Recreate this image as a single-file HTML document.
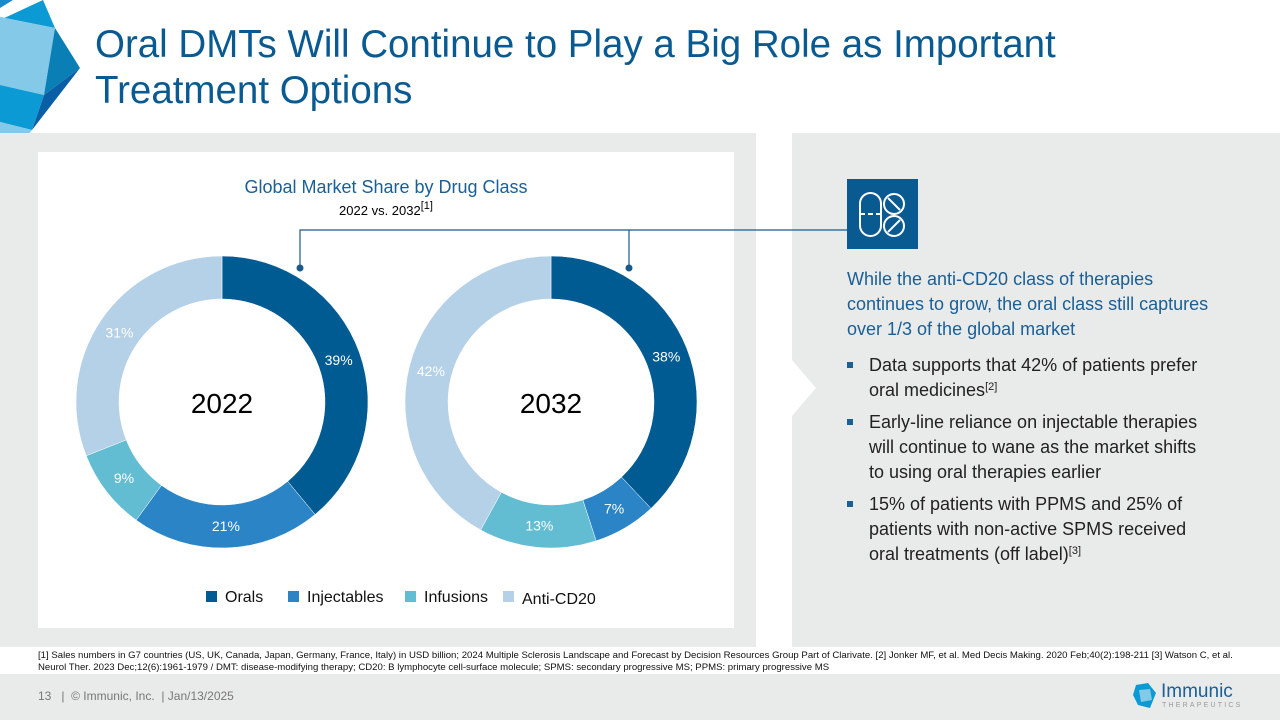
<!DOCTYPE html>
<html><head><meta charset="utf-8"><style>
body{margin:0;width:1280px;height:720px;position:relative;overflow:hidden;background:#fff;font-family:"Liberation Sans",sans-serif}
.abs{position:absolute}
ul{margin:0;padding:0;list-style:none}
li{position:relative;padding-left:24px;margin-bottom:7px;white-space:nowrap}
li:before{content:"";position:absolute;left:2px;top:9px;width:6px;height:6px;background:#1a5f95}
sup{font-size:11px;line-height:0;vertical-align:6px}
</style></head><body>
<svg class="abs" style="left:0;top:0" width="90" height="170">
<polygon points="0,0 13,0 0,8" fill="#1a8ac8"/>
<polygon points="0,20 43,0 55,28 0,17" fill="#0b9ad4"/>
<polygon points="0,17 55,28 44,95 0,85" fill="#84c9e8"/>
<polygon points="55,28 80,68 44,95" fill="#0a7fb5"/>
<polygon points="44,95 80,68 32,130" fill="#0a5ea5"/>
<polygon points="0,85 44,95 32,130 0,122" fill="#0b9ad4"/>
<polygon points="0,122 32,130 0,170" fill="#84c9e8"/>
</svg>
<div class="abs" style="left:95px;top:22px;font-size:38.5px;line-height:46px;color:#0a5a92;white-space:nowrap">Oral DMTs Will Continue to Play a Big Role as Important<br>Treatment Options</div>
<div class="abs" style="left:0;top:133px;width:756px;height:514px;background:#e9eaea"></div>
<div class="abs" style="left:792px;top:133px;width:488px;height:514px;background:#e9eaea"></div>
<svg class="abs" style="left:792px;top:360px" width="30" height="56"><polygon points="0,0 24,28 0,56" fill="#fff"/></svg>
<div class="abs" style="left:38px;top:152px;width:696px;height:476px;background:#fff"></div>
<div class="abs" style="left:38px;width:696px;top:177px;text-align:center;font-size:18px;color:#1a5f95">Global Market Share by Drug Class</div>
<div class="abs" style="left:38px;width:696px;top:203px;text-align:center;font-size:13px;color:#000">2022 vs. 2032<sup>[1]</sup></div>
<svg id="chart" class="abs" style="left:0;top:0" width="1280" height="720"></svg>
<div class="abs" style="left:847px;top:179px;width:71px;height:70px;background:#0a5a92">
<svg width="71" height="70"><g fill="none" stroke="#fff" stroke-width="2"><rect x="13" y="14" width="21" height="43" rx="10.5"/><line x1="13" y1="35" x2="34" y2="35" stroke-dasharray="5 3"/><circle cx="47" cy="25" r="10"/><line x1="41" y1="19" x2="53" y2="31"/><circle cx="47" cy="47" r="10"/><line x1="41" y1="53" x2="53" y2="41"/></g></svg></div>
<div class="abs" style="left:847px;top:267px;width:420px;font-size:18px;line-height:25px;color:#1a5f95;white-space:nowrap">While the anti-CD20 class of therapies<br>continues to grow, the oral class still captures<br>over 1/3 of the global market</div>
<ul class="abs" style="left:845px;top:353px;width:420px;font-size:18px;line-height:25px;color:#222">
<li>Data supports that 42% of patients prefer<br>oral medicines<sup>[2]</sup></li>
<li>Early-line reliance on injectable therapies<br>will continue to wane as the market shifts<br>to using oral therapies earlier</li>
<li>15% of patients with PPMS and 25% of<br>patients with non-active SPMS received<br>oral treatments (off label)<sup>[3]</sup></li>
</ul>
<div class="abs" style="left:38px;top:650px;width:1230px;font-size:9.6px;line-height:12px;color:#111;white-space:nowrap">[1] Sales numbers in G7 countries (US, UK, Canada, Japan, Germany, France, Italy) in USD billion; 2024 Multiple Sclerosis Landscape and Forecast by Decision Resources Group Part of Clarivate. [2] Jonker MF, et al. Med Decis Making. 2020 Feb;40(2):198-211 [3] Watson C, et al.<br>Neurol Ther. 2023 Dec;12(6):1961-1979 / DMT: disease-modifying therapy; CD20: B lymphocyte cell-surface molecule; SPMS: secondary progressive MS; PPMS: primary progressive MS</div>
<div class="abs" style="left:0;top:674px;width:1280px;height:46px;background:#e9eaea"></div>
<div class="abs" style="left:38px;top:689px;font-size:12px;color:#777">13 &nbsp;&nbsp;| &nbsp;© Immunic, Inc. &nbsp;| Jan/13/2025</div>
<svg class="abs" style="left:1130px;top:681px" width="30" height="30"><polygon points="6,4 18,2 26,12 20,27 8,24 3,14" fill="#0b9ad4"/><polygon points="9,9 20,8 22,19 11,21" fill="#84c9e8"/></svg>
<div class="abs" style="left:1161px;top:681px;font-size:19px;color:#1a5f95">Immunic</div>
<div class="abs" style="left:1162px;top:702px;font-size:7px;letter-spacing:2.2px;color:#999">THERAPEUTICS</div>
<script>
const categories=["Orals","Injectables","Infusions","Anti-CD20"];
const years=["2022","2032"];
const values2022=[39,21,9,31];
const values2032=[38,7,13,42];
const colors=["#005b92","#2a84c6","#62bcd2","#b4d1e8"];
const NS="http://www.w3.org/2000/svg";
const svg=document.getElementById('chart');
function mk(t,a){const e=document.createElementNS(NS,t);for(const k in a)e.setAttribute(k,a[k]);svg.appendChild(e);return e;}
function pt(cx,cy,r,a){return [cx+r*Math.sin(a),cy-r*Math.cos(a)];}
function donut(vals,cx,cy,year){
 const R=146,r=103,tot=vals.reduce((a,b)=>a+b,0);let a0=0;
 vals.forEach((v,i)=>{const a1=a0+v/tot*2*Math.PI;const lg=(a1-a0)>Math.PI?1:0;
  const p1=pt(cx,cy,R,a0),p2=pt(cx,cy,R,a1),p3=pt(cx,cy,r,a1),p4=pt(cx,cy,r,a0);
  const p=mk('path',{d:`M${p1}A${R},${R} 0 ${lg} 1 ${p2}L${p3}A${r},${r} 0 ${lg} 0 ${p4}Z`,fill:colors[i],stroke:'#fff','stroke-width':0.5});
  
  
  const m=pt(cx,cy,124,(a0+a1)/2);
  const t=mk('text',{x:m[0],y:m[1]+5,'text-anchor':'middle','font-size':14,fill:'#fff','font-family':'Liberation Sans,sans-serif'});
  t.textContent=v+'%';
  
  
  a0=a1;});
 const c=mk('text',{x:cx,y:cy+11,'text-anchor':'middle','font-size':28,fill:'#000','font-family':'Liberation Sans,sans-serif'});
 c.textContent=year;
 
 
}
donut(values2022,222,402,years[0]);
donut(values2032,551,402,years[1]);
const ln=mk('path',{d:'M300,268V230H847M629,230V268',fill:'none',stroke:'#1a5a8a','stroke-width':1.2});


[300,629].forEach(x=>{const d=mk('circle',{cx:x,cy:268,r:3.5,fill:'#1a5a8a'});
 
 });
const lx=[206,288,405,503];
categories.forEach((c,i)=>{
 const s=mk('rect',{x:lx[i],y:591,width:11,height:11,fill:colors[i]});
 
 
 const t=mk('text',{x:lx[i]+19,y:602+(i==3?2:0),'font-size':16,fill:'#111','font-family':'Liberation Sans,sans-serif'});
 t.textContent=c;
 
 
});
</script>
</body></html>
